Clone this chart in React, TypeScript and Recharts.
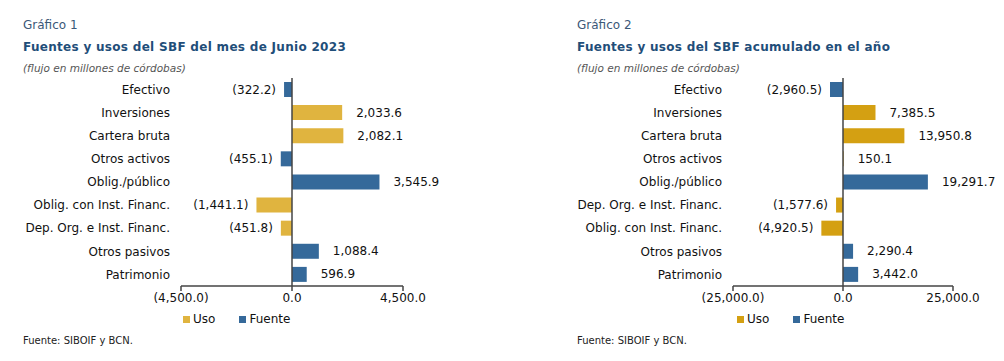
import React from "react"
import {
  Bar,
  BarChart,
  LabelList,
  Legend,
  ReferenceLine,
  XAxis,
  YAxis,
} from "recharts"

// Gráfico 1: mes de junio 2023
const categories1 = [
  "Efectivo",
  "Inversiones",
  "Cartera bruta",
  "Otros activos",
  "Oblig./público",
  "Oblig. con Inst. Financ.",
  "Dep. Org. e Inst. Financ.",
  "Otros pasivos",
  "Patrimonio",
]
const uso1 = [null, 2033.6, 2082.1, null, null, -1441.1, -451.8, null, null]
const fuente1 = [-322.2, null, null, -455.1, 3545.9, null, null, 1088.4, 596.9]
const ticks1 = [-4500, 0, 4500]

// Gráfico 2: acumulado en el año
const categories2 = [
  "Efectivo",
  "Inversiones",
  "Cartera bruta",
  "Otros activos",
  "Oblig./público",
  "Dep. Org. e Inst. Financ.",
  "Oblig. con Inst. Financ.",
  "Otros pasivos",
  "Patrimonio",
]
const uso2 = [null, 7385.5, 13950.8, 150.1, null, -1577.6, -4920.5, null, null]
const fuente2 = [-2960.5, null, null, null, 19291.7, null, null, 2290.4, 3442.0]
const ticks2 = [-25000, 0, 25000]

const seriesOrder = ["Uso", "Fuente"]

const FONT = "'DejaVu Sans', Verdana, sans-serif"
const BLUE = "#35699a"

type Row = { name: string; uso: number | null; fuente: number | null }

function buildRows(cats: string[], uso: (number | null)[], fuente: (number | null)[]): Row[] {
  return cats.map((name, i) => ({ name, uso: uso[i], fuente: fuente[i] }))
}

function fmt(v: number) {
  const s = Math.abs(v).toLocaleString("en-US", {
    minimumFractionDigits: 1,
    maximumFractionDigits: 1,
  })
  return v < 0 ? `(${s})` : s
}

function BarValue(props: any) {
  const { x, y, width, height, value } = props
  if (value === null || value === undefined) return null
  const left = Math.min(x, x + width)
  const right = Math.max(x, x + width)
  const neg = value < 0
  return (
    <text
      x={neg ? left - 8 : right + 14}
      y={y + height / 2}
      textAnchor={neg ? "end" : "start"}
      dominantBaseline="central"
      fontFamily={FONT}
      fontSize={12}
      fill="#111"
    >
      {fmt(value)}
    </text>
  )
}

function LegendBox({ payload }: any) {
  const items = [...(payload || [])].sort(
    (a: any, b: any) => seriesOrder.indexOf(a.value) - seriesOrder.indexOf(b.value)
  )
  return (
    <div style={{ display: "flex", fontFamily: FONT, fontSize: 12, color: "#111" }}>
      {items.map((p: any) => (
        <div key={p.value} style={{ display: "flex", alignItems: "center", marginRight: 24 }}>
          <span style={{ width: 7, height: 7, background: p.color, marginRight: 3 }} />
          <span>{p.value}</span>
        </div>
      ))}
    </div>
  )
}

interface PanelProps {
  left: number
  grafico: string
  title: string
  rows: Row[]
  ticks: number[]
  usoColor: string
  yAxisWidth: number
  plotWidth: number
  chartWidth: number
  legendLeft: number
}

function Panel({
  left,
  grafico,
  title,
  rows,
  ticks,
  usoColor,
  yAxisWidth,
  plotWidth,
  chartWidth,
  legendLeft,
}: PanelProps) {
  const textLeft = left + 23
  return (
    <>
      <div style={{ position: "absolute", left: textLeft, top: 17, fontSize: 12, lineHeight: "16px", color: "#3b5878" }}>
        {grafico}
      </div>
      <div
        style={{
          position: "absolute",
          left: textLeft,
          top: 39,
          fontSize: 12,
          lineHeight: "16px",
          fontWeight: "bold",
          letterSpacing: 0.3,
          color: "#1f4e79",
          whiteSpace: "nowrap",
        }}
      >
        {title}
      </div>
      <div
        style={{
          position: "absolute",
          left: textLeft,
          top: 61,
          fontSize: 10.5,
          lineHeight: "14px",
          fontStyle: "italic",
          color: "#555",
        }}
      >
        (flujo en millones de córdobas)
      </div>
      <div style={{ position: "absolute", left: textLeft, top: 334, fontSize: 10, lineHeight: "14px", color: "#222" }}>
        Fuente: SIBOIF y BCN.
      </div>
      <div style={{ position: "absolute", left, top: 70 }}>
        <BarChart
          width={chartWidth}
          height={270}
          data={rows}
          layout="vertical"
          stackOffset="sign"
          margin={{ top: 8, right: chartWidth - yAxisWidth - plotWidth, bottom: 24, left: 0 }}
        >
          <XAxis
            type="number"
            domain={[ticks[0], ticks[ticks.length - 1]]}
            ticks={ticks}
            tickFormatter={fmt}
            axisLine={{ stroke: "#444", strokeWidth: 1.5 }}
            tickLine={{ stroke: "#444", strokeWidth: 1.5 }}
            tickSize={5}
            height={30}
            tick={{ fontFamily: FONT, fontSize: 12, fill: "#111" }}
          />
          <YAxis
            type="category"
            dataKey="name"
            width={yAxisWidth}
            axisLine={false}
            tickLine={false}
            tickMargin={5}
            interval={0}
            tick={{ fontFamily: FONT, fontSize: 12, fill: "#111" }}
          />
          <Legend
            verticalAlign="middle"
            align="center"
            layout="horizontal"
            content={<LegendBox />}
            wrapperStyle={{ left: legendLeft, top: 242, width: "auto" }}
          />
          <Bar dataKey="uso" name="Uso" stackId="s" fill={usoColor} barSize={15} isAnimationActive={false}>
            <LabelList dataKey="uso" content={<BarValue />} />
          </Bar>
          <Bar dataKey="fuente" name="Fuente" stackId="s" fill={BLUE} barSize={15} isAnimationActive={false}>
            <LabelList dataKey="fuente" content={<BarValue />} />
          </Bar>
          <ReferenceLine x={0} stroke="#444" strokeWidth={1.5} />
        </BarChart>
      </div>
    </>
  )
}

export default function App() {
  return (
    <div
      style={{
        position: "absolute",
        left: 0,
        top: 0,
        width: 1004,
        height: 361,
        background: "#fff",
        fontFamily: FONT,
        overflow: "hidden",
      }}
    >
      <Panel
        left={0}
        grafico="Gráfico 1"
        title="Fuentes y usos del SBF del mes de Junio 2023"
        rows={buildRows(categories1, uso1, fuente1)}
        ticks={ticks1}
        usoColor="#e0b43f"
        yAxisWidth={181}
        plotWidth={222}
        chartWidth={500}
        legendLeft={183}
      />
      <Panel
        left={554}
        grafico="Gráfico 2"
        title="Fuentes y usos del SBF acumulado en el año"
        rows={buildRows(categories2, uso2, fuente2)}
        ticks={ticks2}
        usoColor="#d4a012"
        yAxisWidth={179}
        plotWidth={220}
        chartWidth={450}
        legendLeft={183}
      />
    </div>
  )
}
